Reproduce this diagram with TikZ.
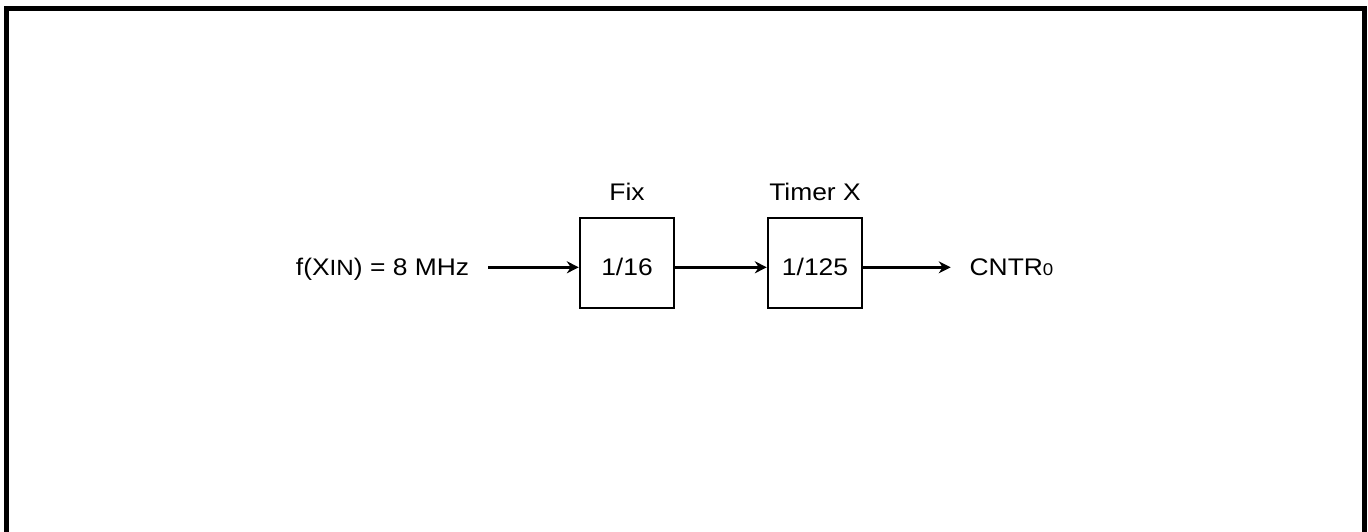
\documentclass[tikz,border=0pt]{standalone}
\usepackage{fontspec}
\setmainfont{Liberation Sans}[FakeStretch=1.1]
\usepackage{xcolor}
\usepackage{tikz}
\usetikzlibrary{arrows.meta,positioning,calc}

\begin{document}
\begin{tikzpicture}[
  x=1pt, y=1pt,
  font=\fontsize{12}{14}\selectfont,
  div_box/.style={draw=black, line width=1.2pt, minimum width=47pt, minimum height=45pt, inner sep=0pt,
                  text height=14pt, text depth=1.6pt, align=center},
  txt/.style    ={inner sep=0pt, anchor=base},
  arr/.style    ={-{Stealth[length=6pt, width=6pt]}, line width=1.4pt, black},
  frame/.style  ={line width=2.5pt, black},
]
  \useasboundingbox (0,0) rectangle (684,-265.5);
  \draw[frame] (3.25,-275) -- (3.25,-4.25) -- (682.25,-4.25) -- (682.25,-275);

  \node[div_box] (fix)   at (313.5,-131.5) {1/16};
  \node[div_box] (timer) at (407.5,-131.5) {1/125};
  \node[txt] (fixlbl)   at ([yshift=8pt]fix.north)   {Fix};
  \node[txt] (timerlbl) at ([yshift=8pt]timer.north) {Timer X};
  \node[txt] (src)  at (191.25,-137.85) {f(X{\fontsize{11}{12}\selectfont IN}) = 8 MHz};
  \node[txt] (cntr) at (505.75,-137.85) {CNTR{\fontsize{8.5}{10}\selectfont 0}};

  \coordinate (inp)  at (244.15,-133.65);
  \coordinate (outp) at (475.35,-133.65);

  \draw[arr] (inp) -- (fix.west |- inp);
  \draw[arr] (fix.east |- inp) -- (timer.west |- inp);
  \draw[arr] (timer.east |- inp) -- (outp);
\end{tikzpicture}
\end{document}
